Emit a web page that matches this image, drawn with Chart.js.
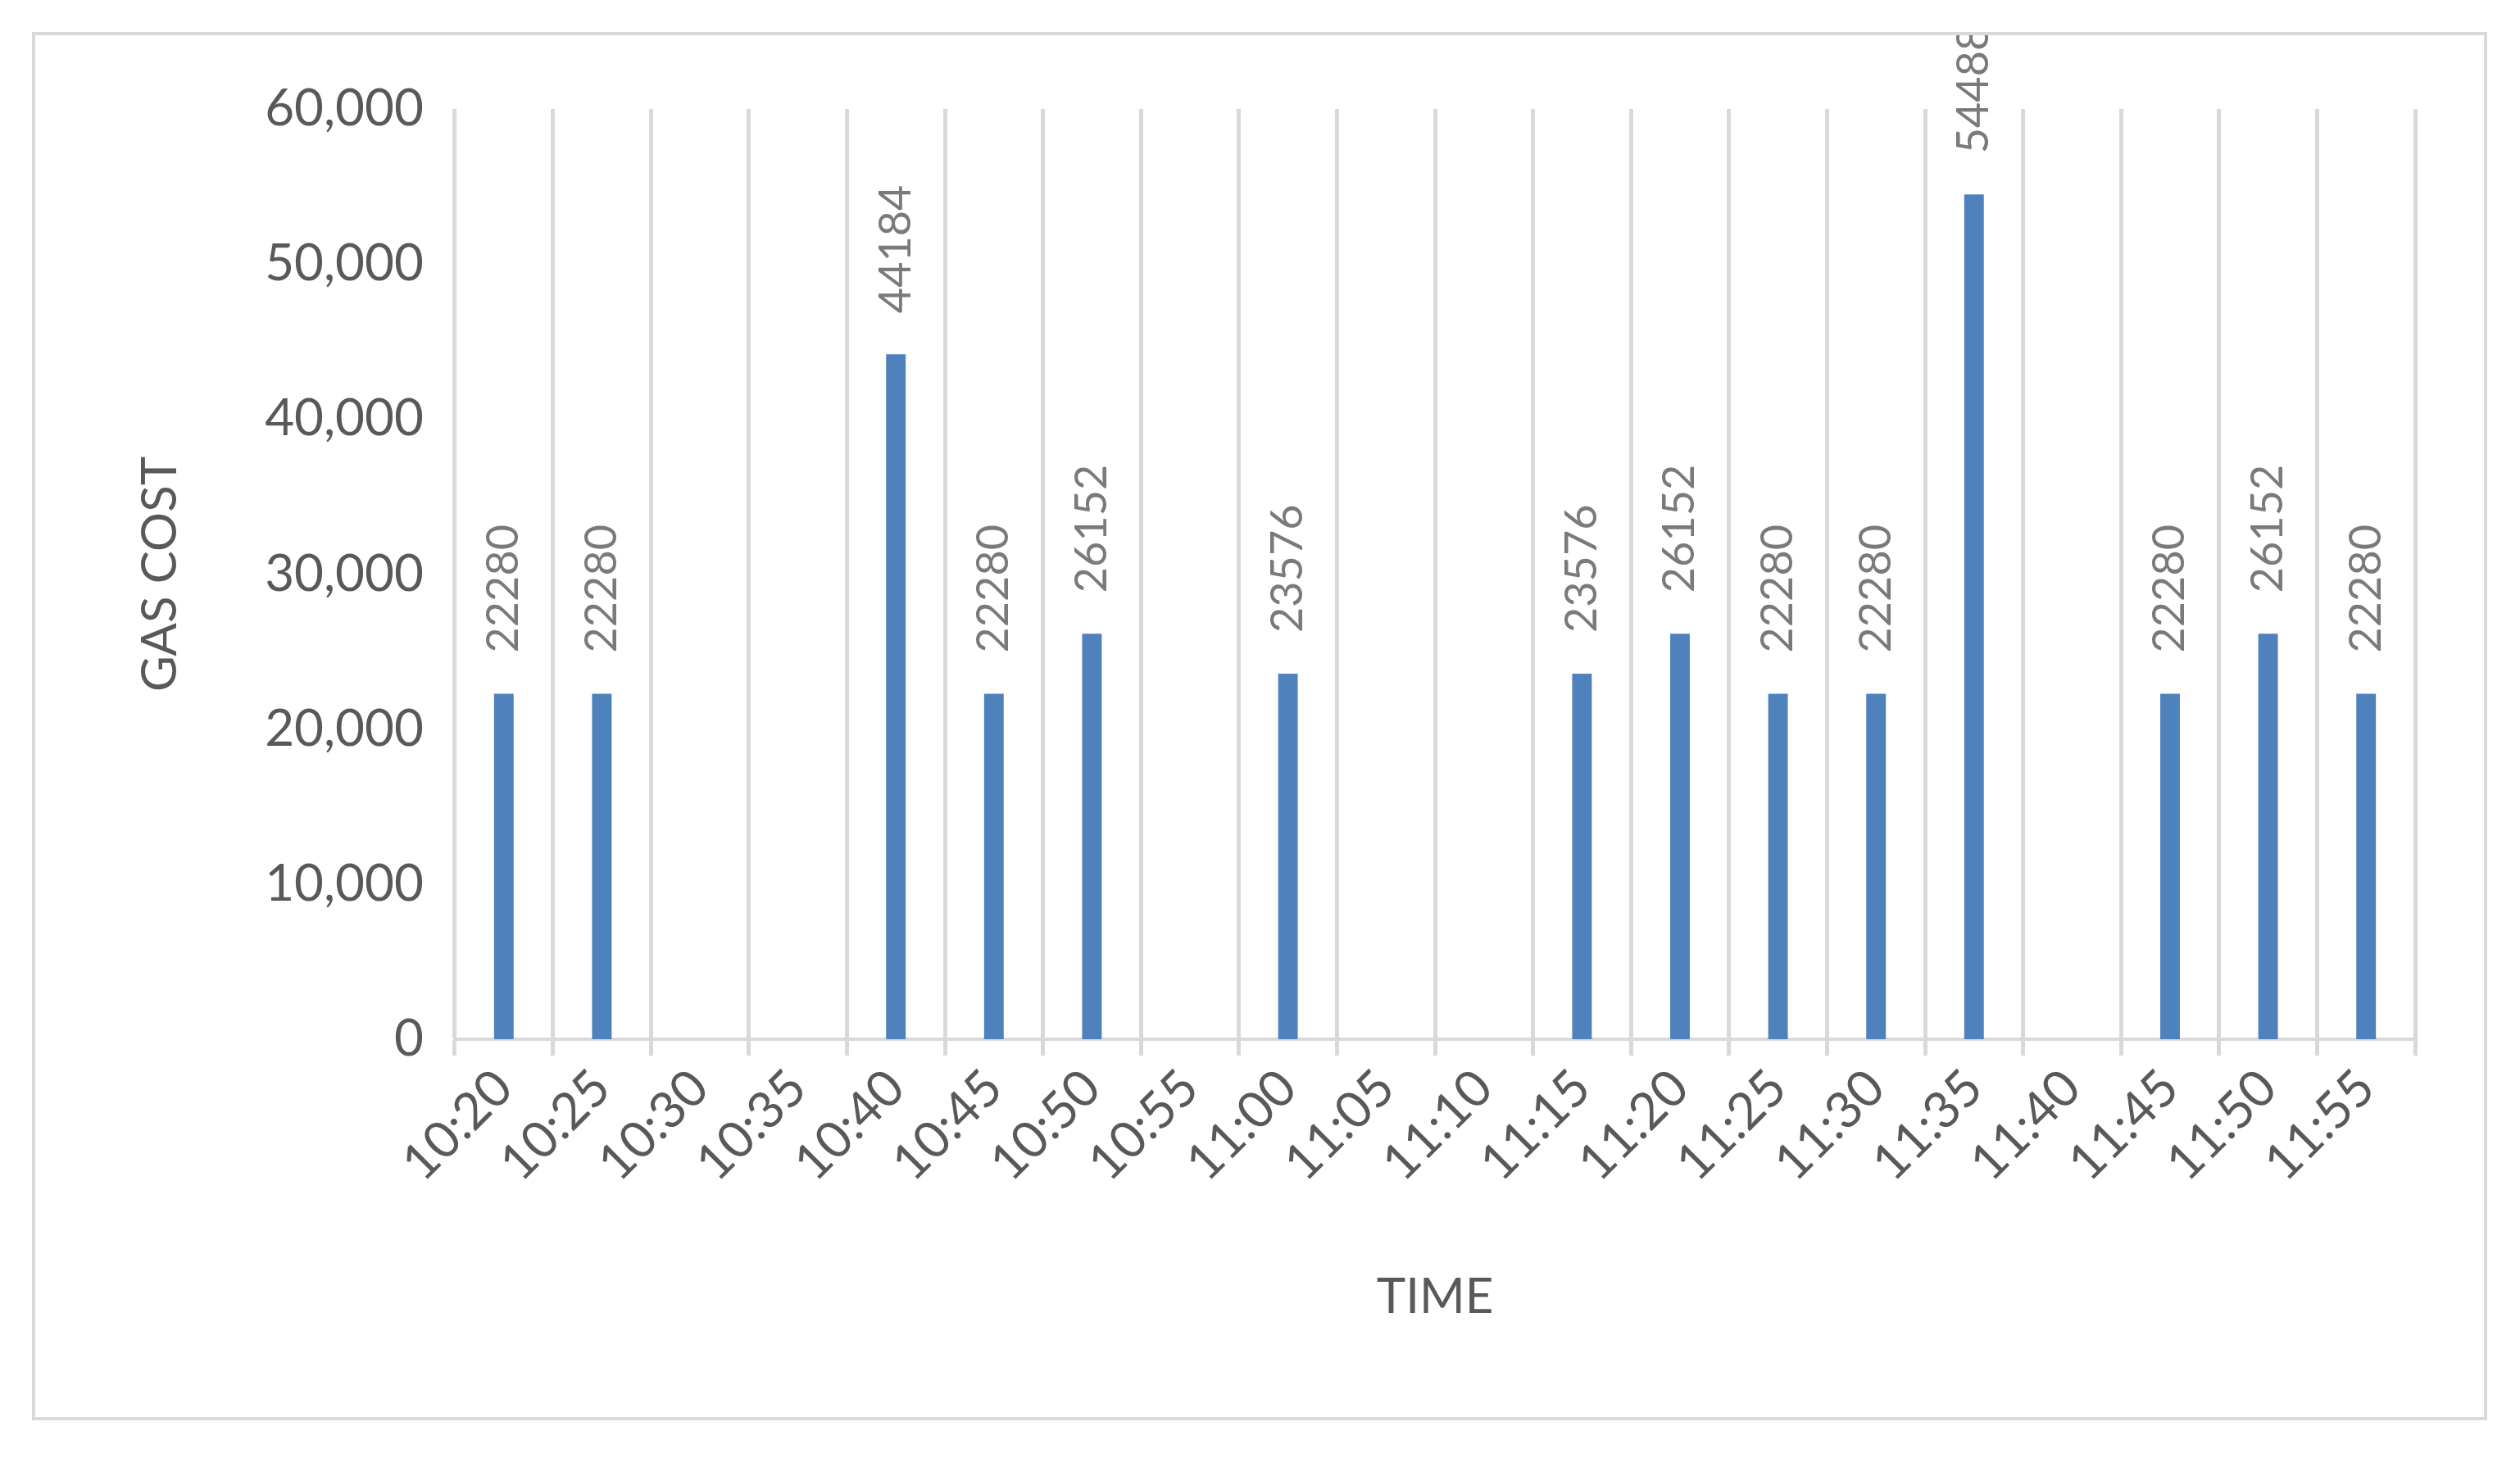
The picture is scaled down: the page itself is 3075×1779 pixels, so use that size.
<!DOCTYPE html>
<html>
<head>
<meta charset="utf-8">
<script src="https://cdn.jsdelivr.net/npm/chart.js@4"></script>
<style>
  body { margin:0; background:#fff; }
  #box { position:absolute; left:39px; top:39px; width:2988px; height:1686px; border:4px solid #d9d9d9; }
</style>
</head>
<body>
<div id="box"><canvas id="gasChart" width="2988" height="1686"></canvas></div>
<script>
const horas = ["10:20","10:25","10:30","10:35","10:40","10:45","10:50","10:55","11:00","11:05","11:10","11:15","11:20","11:25","11:30","11:35","11:40","11:45","11:50","11:55"];
const gasCost = [22280,22280,null,null,44184,22280,26152,null,23576,null,null,23576,26152,22280,22280,54488,null,22280,26152,22280];
const yTicks = [0,10000,20000,30000,40000,50000,60000];

const fuente = "Lato, 'Open Sans', sans-serif";

// etiquetas giradas encima de cada barra
const etiquetas = {
  id:'etiquetas',
  afterDatasetsDraw(chart) {
    const ctx = chart.ctx;
    const meta = chart.getDatasetMeta(0);
    ctx.save();
    ctx.font = `54px ${fuente}`;
    ctx.fillStyle = '#7a7a7a';
    ctx.textAlign = 'left';
    ctx.textBaseline = 'middle';
    meta.data.forEach((bar,i)=> {
      if (gasCost[i] == null) return;
      ctx.save();
      ctx.translate(bar.x, bar.y - 50);
      ctx.rotate(-Math.PI/2);
      ctx.fillText(String(gasCost[i]), 0, 0);
      ctx.restore();
    });
    ctx.restore();
  }
};

const ctx = document.getElementById('gasChart').getContext('2d');
new Chart(ctx, {
  type:'bar',
  data:{
    labels: horas,
    datasets:[{ data: gasCost, backgroundColor:'#4f81bd', barPercentage:0.2, categoryPercentage:1 }]
  },
  options:{
    responsive:false,
    animation:false,
    layout:{ padding:{ top:90, right:84, left:117, bottom:110 } },
    plugins:{ legend:{ display:false }, tooltip:{ enabled:false } },
    scales:{
      x:{
        afterFit: s => { s.height = 351; },
        grid:{ offset:true, color:'#d9d9d9', lineWidth:5, tickLength:20, drawOnChartArea:true },
        border:{ color:'#d9d9d9', width:4 },
        ticks:{ color:'#595959', font:{ size:62, family:fuente }, minRotation:45, maxRotation:45, autoSkip:false },
        title:{ display:true, text:'TIME', color:'#595959', font:{ size:60, family:fuente }, padding:{ top:30, bottom:0 } }
      },
      y:{
        min:0, max:60000,
        afterFit: s => { s.width = 395; },
        afterBuildTicks: s => { s.ticks = yTicks.map(v => ({ value:v })); },
        grid:{ display:false },
        border:{ display:false },
        ticks:{ color:'#595959', font:{ size:62, family:fuente }, padding:30, callback: v => v.toLocaleString('en-US') },
        title:{ display:true, text:'GAS COST', color:'#595959', font:{ size:60, family:fuente }, padding:{ top:0, bottom:20 } }
      }
    }
  },
  plugins:[etiquetas]
});
</script>
</body>
</html>
